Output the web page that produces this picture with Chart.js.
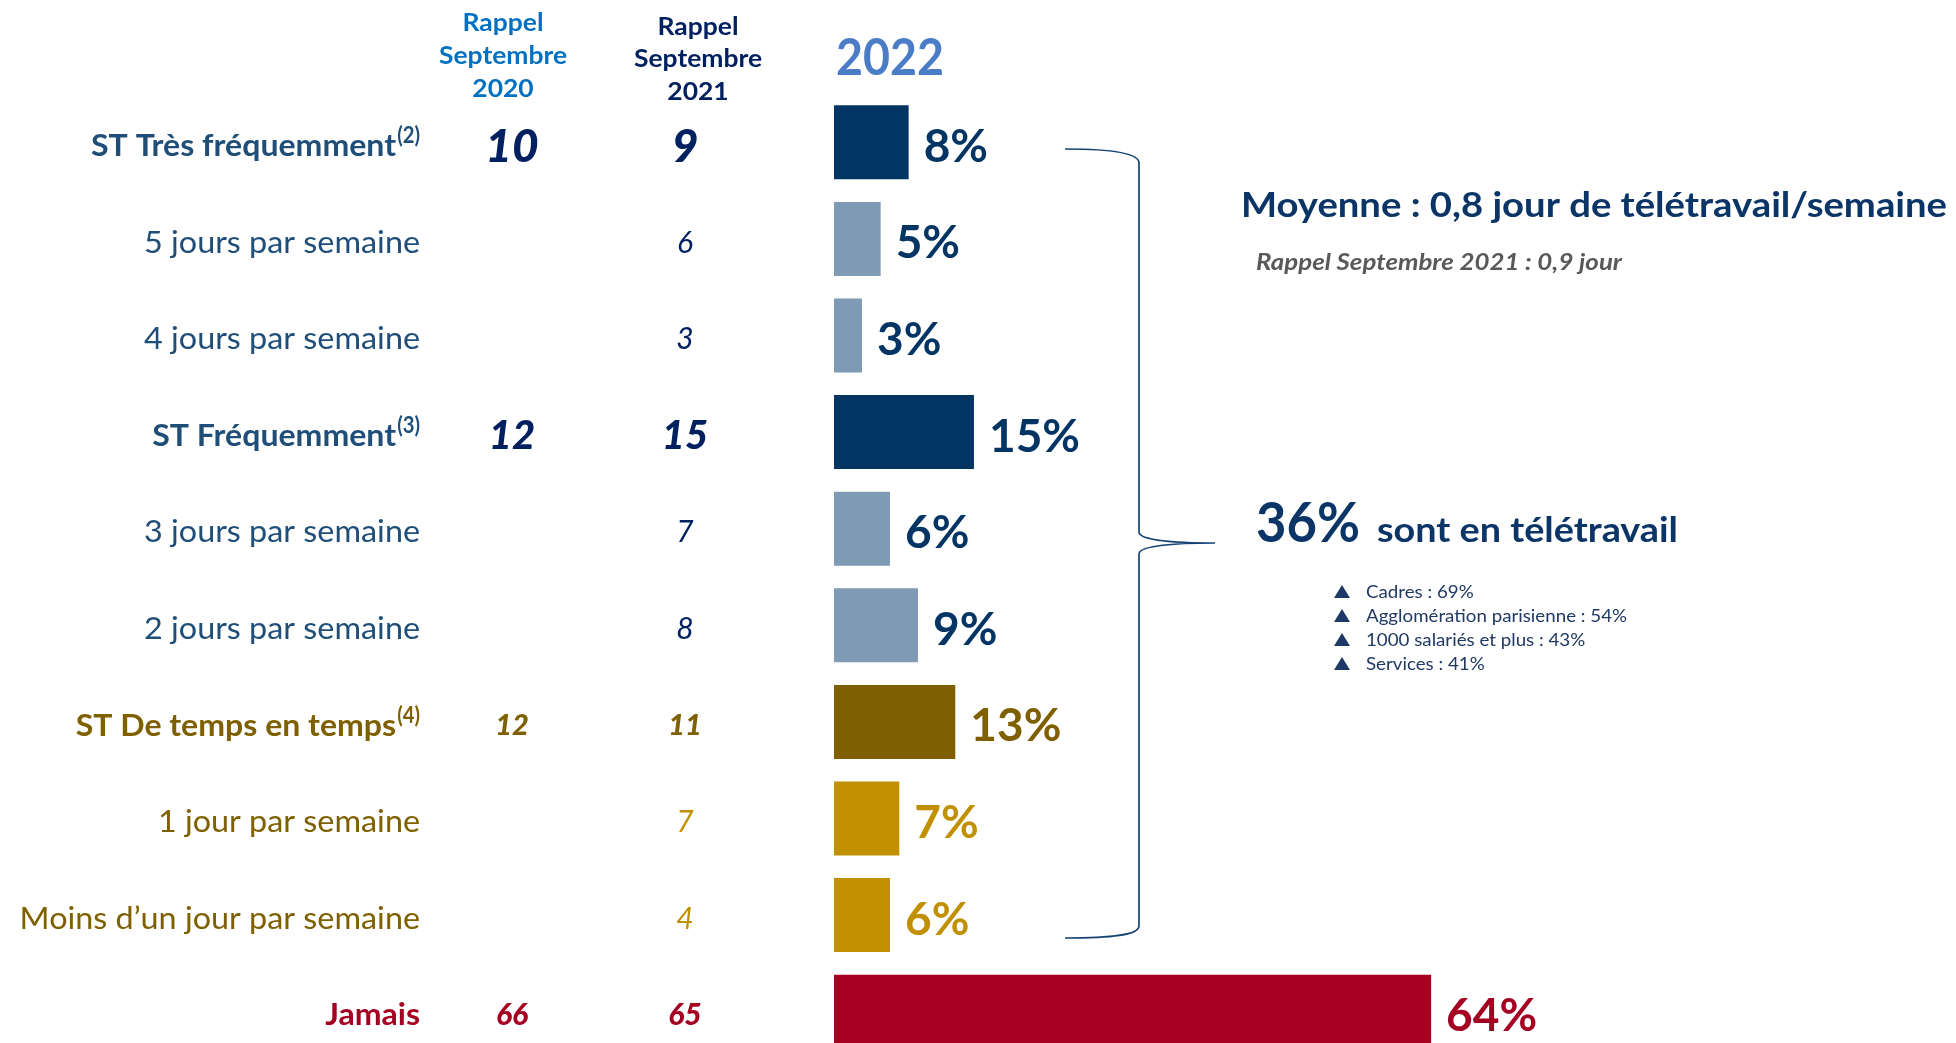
<!DOCTYPE html>
<html>
<head>
<meta charset="utf-8">
<script src="https://cdn.jsdelivr.net/npm/chart.js@4/dist/chart.umd.min.js"></script>
<style>
html,body{margin:0;padding:0;overflow:hidden;background:#fff;width:1956px;height:1043px}
#wrap{position:relative;width:1956px;height:1080px}
canvas{display:block}
</style>
</head>
<body>
<div id="wrap"><canvas id="c" width="1956" height="1080"></canvas></div>
<script>
// ---------- DATA ----------
const categories = ['ST Très fréquemment','5 jours par semaine','4 jours par semaine','ST Fréquemment','3 jours par semaine','2 jours par semaine','ST De temps en temps','1 jour par semaine','Moins d’un jour par semaine','Jamais'];
const footnotes = ['(2)','','','(3)','','','(4)','','',''];
const values2022 = [8,5,3,15,6,9,13,7,6,64];
const rappel2020 = [10,null,null,12,null,null,12,null,null,66];
const rappel2021 = [9,6,3,15,7,8,11,7,4,65];
const header2020 = ['Rappel','Septembre','2020'];
const header2021 = ['Rappel','Septembre','2021'];
const header2022 = '2022';
const moyenneText = 'Moyenne : 0,8 jour de télétravail/semaine';
const rappelMoyenne = 'Rappel Septembre 2021 : 0,9 jour';
const teletravailPct = '36%';
const teletravailText = 'sont en télétravail';
const bullets = ['Cadres : 69%','Agglomération parisienne : 54%','1000 salariés et plus : 43%','Services : 41%'];

// ---------- STYLES ----------
const NAVY='#023564', STEEL='#7F9AB5', OLIVE='#7F6000', GOLD='#C09000', CRIMSON='#A50021';
const barColors=[NAVY,STEEL,STEEL,NAVY,STEEL,STEEL,OLIVE,GOLD,GOLD,CRIMSON];
const valueColors=[NAVY,NAVY,NAVY,NAVY,NAVY,NAVY,OLIVE,GOLD,GOLD,CRIMSON];
const labelColors=['#1F4E79','#1F4E79','#1F4E79','#1F4E79','#1F4E79','#1F4E79',OLIVE,OLIVE,OLIVE,CRIMSON];
const numColors=['#002060','#002060','#002060','#002060','#002060','#002060',OLIVE,GOLD,GOLD,CRIMSON];
const isTotal=[true,false,false,true,false,false,true,false,false,true];
const numSizes=[46,30,30,40,30,30,29,30,30,30];
const FONT='Lato';

function setFont(ctx,size,weight,style){ctx.font=`${style||'normal'} ${weight||'normal'} ${size}px ${FONT}`;}
function measure(ctx,s,size,weight,style){ctx.save();setFont(ctx,size,weight,style);const w=ctx.measureText(s).width;ctx.restore();return w;}
function txt(ctx,s,x,y,o){
  ctx.save();
  setFont(ctx,o.size,o.weight,o.style);
  ctx.fillStyle=o.color;ctx.textBaseline='alphabetic';ctx.textAlign='left';
  const sx=o.sx||1;
  const w=ctx.measureText(s).width*sx;
  const x0=o.align==='right'?x-w:(o.align==='center'?x-w/2:x);
  ctx.translate(x0,y);ctx.scale(sx,1);ctx.fillText(s,0,0);
  ctx.restore();
  return w;
}
function fit(ctx,s,target,size,weight,style){return target/measure(ctx,s,size,weight,style);}
const CAP=0.717;

const overlay={
  id:'overlay',
  afterDraw(chart){
    const ctx=chart.ctx, y=chart.scales.y, x=chart.scales.x;
    // headers
    const hs=fit(ctx,'Septembre',128,25,'bold');
    const hb2020=[31,64,97], hb2021=[35,67,100];
    header2020.forEach((t,i)=>txt(ctx,t,503,hb2020[i],{size:25,weight:'bold',color:'#0070C0',align:'center',sx:hs}));
    header2021.forEach((t,i)=>txt(ctx,t,698,hb2021[i],{size:25,weight:'bold',color:'#002060',align:'center',sx:hs}));
    txt(ctx,header2022,836,75,{size:52,weight:'bold',color:'#4A7DC6',align:'left',sx:fit(ctx,header2022,108,52,'bold')});

    const regS=fit(ctx,'5 jours par semaine',276,30,'normal');
    const boldS=fit(ctx,'ST Fréquemment',244,30,'bold');
    categories.forEach((cat,i)=>{
      const cy=y.getPixelForValue(i)+3;
      // left label
      const bold=isTotal[i];
      const lsize=30;
      const base=cy+lsize*CAP/2;
      let right=420;
      if(footnotes[i]){
        const sw=txt(ctx,footnotes[i],right,base-13,{size:22,weight:bold?'bold':'normal',color:labelColors[i],align:'right',sx:0.92});
        right-=sw+1;
      }
      txt(ctx,cat,right,base,{size:lsize,weight:bold?'bold':'normal',color:labelColors[i],align:'right',sx:bold?boldS:regS});
      // rappel columns
      const ns=numSizes[i];
      const nb=cy+ns*CAP/2;
      const wgt=bold?'900':'normal';
      if(rappel2020[i]!==null) txt(ctx,String(rappel2020[i]),512,nb,{size:ns,weight:wgt,style:'italic',color:numColors[i],align:'center'});
      if(rappel2021[i]!==null) txt(ctx,String(rappel2021[i]),685,nb,{size:ns,weight:wgt,style:'italic',color:numColors[i],align:'center'});
      // value label
      const bx=x.getPixelForValue(values2022[i]);
      txt(ctx,values2022[i]+'%',bx+15,cy+46*CAP/2,{size:46,weight:'bold',color:valueColors[i],align:'left'});
    });

    // brace
    ctx.save();
    ctx.strokeStyle='#174372';ctx.lineWidth=1.7;ctx.beginPath();
    ctx.moveTo(1065,149);
    ctx.bezierCurveTo(1112,149,1139,153,1139,163);
    ctx.lineTo(1139,532);
    ctx.bezierCurveTo(1139,540,1172,543,1215,543);
    ctx.moveTo(1215,543);
    ctx.bezierCurveTo(1172,543,1139,546,1139,554);
    ctx.lineTo(1139,926);
    ctx.bezierCurveTo(1139,935,1112,938,1065,938);
    ctx.stroke();ctx.restore();

    // right texts
    txt(ctx,moyenneText,1241,217,{size:35,weight:'bold',color:'#0A3566',sx:fit(ctx,moyenneText,706,35,'bold')});
    txt(ctx,rappelMoyenne,1256,270,{size:23,weight:'bold',style:'italic',color:'#595959',sx:fit(ctx,rappelMoyenne,366,23,'bold','italic')});
    txt(ctx,teletravailPct,1256,542,{size:56,weight:'bold',color:'#0A3566',sx:fit(ctx,teletravailPct,104,56,'bold')});
    txt(ctx,teletravailText,1377,542,{size:34,weight:'bold',color:'#0A3566',sx:fit(ctx,teletravailText,301,34,'bold')});
    const bs=fit(ctx,bullets[1],261,18,'normal');
    bullets.forEach((b,i)=>{
      const bl=598+i*24;
      ctx.save();ctx.fillStyle='#1F3864';ctx.beginPath();
      ctx.moveTo(1334,bl);ctx.lineTo(1350,bl);ctx.lineTo(1342,bl-13);ctx.closePath();ctx.fill();ctx.restore();
      txt(ctx,b,1366,bl,{size:18,weight:'normal',color:'#1F3864',sx:bs});
    });
  }
};

new Chart(document.getElementById('c'),{
  type:'bar',
  data:{labels:categories,datasets:[{data:values2022,backgroundColor:barColors,borderWidth:0,barPercentage:0.766,categoryPercentage:1}]},
  options:{
    indexAxis:'y',responsive:false,animation:false,devicePixelRatio:1,
    layout:{padding:{left:834,right:189,top:94,bottom:20}},
    plugins:{legend:{display:false},tooltip:{enabled:false},title:{display:false}},
    scales:{
      x:{min:0,max:100,display:false,grid:{display:false}},
      y:{display:false,grid:{display:false}}
    }
  },
  plugins:[overlay]
});
</script>
</body>
</html>
